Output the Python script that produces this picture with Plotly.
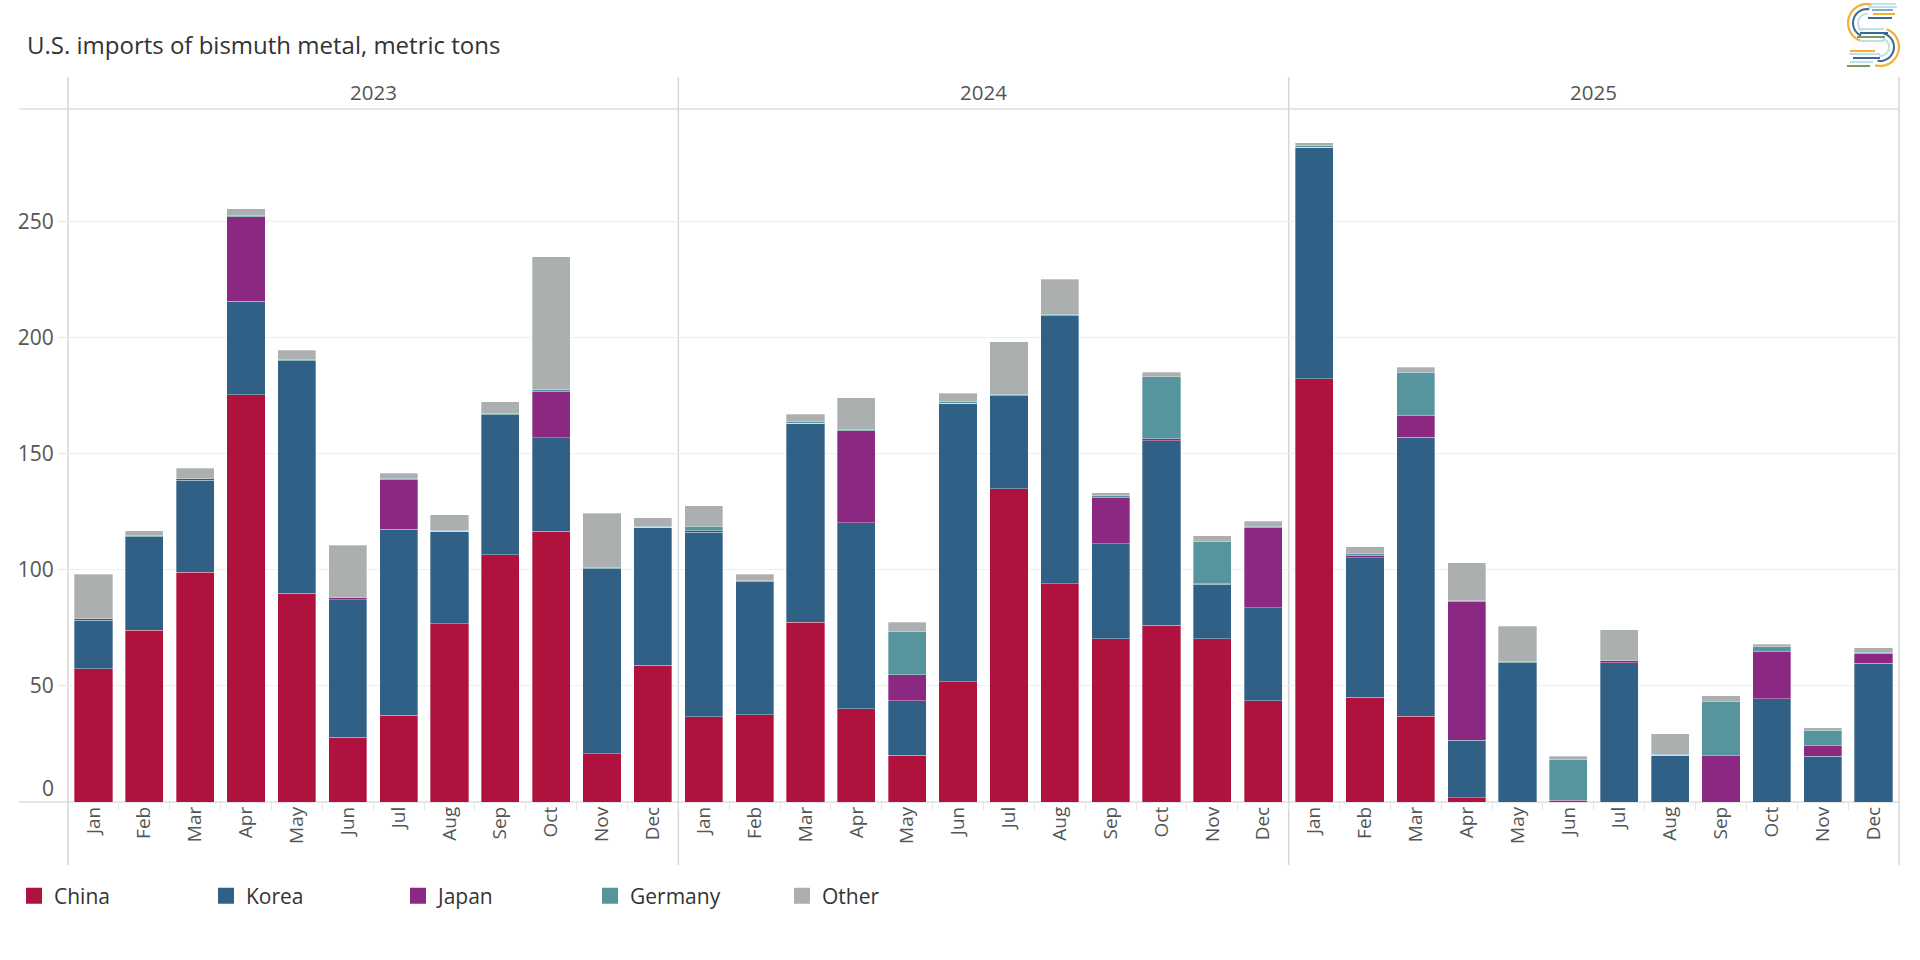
import math
import plotly.graph_objects as go
from plotly.subplots import make_subplots

# ---------------- data ----------------
years = ["2023", "2024", "2025"]
months = ["Jan", "Feb", "Mar", "Apr", "May", "Jun", "Jul", "Aug", "Sep", "Oct", "Nov", "Dec"]
countries = ["China", "Korea", "Japan", "Germany", "Other"]
colors = ["#AF123D", "#306086", "#8A2882", "#57959E", "#ABAFB0"]

china_2023 = [57.5, 74, 99, 175.5, 90, 27.8, 37.3, 76.8, 106.5, 116.7, 20.8, 58.8]
china_2024 = [36.8, 37.5, 77.5, 40.1, 20.2, 51.9, 134.9, 94, 70.4, 76.1, 70.4, 43.7]
china_2025 = [182.3, 45.2, 36.9, 1.9, 0, 0, 0, 0, 0, 0, 0, 0]

korea_2023 = [20.8, 40.3, 39.6, 40.2, 100, 59.3, 80.1, 39.9, 60.2, 40.2, 79.7, 59.5]
korea_2024 = [79.4, 57.4, 85.7, 80.1, 23.5, 119.8, 40.1, 115.5, 40.9, 79.5, 23.3, 39.9]
korea_2025 = [99.8, 60, 120.2, 24.6, 60, 0, 60, 20.2, 0, 44.4, 19.8, 59.8]

japan_2023 = [0.6, 0, 0.7, 36.4, 0, 0.9, 21.5, 0, 0, 19.9, 0, 0]
japan_2024 = [0.7, 0, 0, 39.7, 11.1, 0, 0, 0, 19.7, 0.9, 0.5, 34.5]
japan_2025 = [0, 1, 9.2, 59.7, 0, 0.8, 0.8, 0, 20, 20.6, 4.6, 4.2]

germany_2023 = [0, 0.5, 0, 0.5, 0.5, 0, 0.5, 0.4, 0.5, 0.7, 0.5, 0.5]
germany_2024 = [1.9, 0.5, 0.7, 0.5, 18.6, 0.7, 0.7, 0.7, 1, 26.6, 17.9, 0.7]
germany_2025 = [0.6, 0.9, 18.9, 0.5, 0.4, 17.7, 0, 0.4, 23.3, 1.9, 6.4, 0.4]

other_2023 = [19.2, 2, 4.4, 3, 4, 22.7, 2.1, 6.7, 5.2, 57.4, 23.4, 3.6]
other_2024 = [8.8, 2.7, 3.2, 13.7, 4.1, 3.7, 22.5, 15, 1.3, 2.1, 2.5, 2.2]
other_2025 = [1.3, 2.9, 2.1, 16.4, 15.2, 1.3, 13.4, 8.8, 2.5, 1, 1.1, 2.1]

series = {
    "China": [china_2023, china_2024, china_2025],
    "Korea": [korea_2023, korea_2024, korea_2025],
    "Japan": [japan_2023, japan_2024, japan_2025],
    "Germany": [germany_2023, germany_2024, germany_2025],
    "Other": [other_2023, other_2024, other_2025],
}

y_ticks = [0, 50, 100, 150, 200, 250]
y_max = 298.5

# ---------------- layout geometry (pixels) ----------------
W, H = 1920, 960
ML, MR, MT, MB = 68, 21, 109, 158
PW = W - ML - MR
PH = H - MT - MB


def px(x):
    return (x - ML) / PW


def py(y):
    return (H - MB - y) / PH


FONT = "Open Sans"
LBL = "#555555"

fig = make_subplots(rows=1, cols=3, shared_yaxes=True, horizontal_spacing=0)

for i, yr in enumerate(years):
    for c, col in zip(countries, colors):
        fig.add_trace(
            go.Bar(
                x=months,
                y=series[c][i],
                name=c,
                marker=dict(color=col, line=dict(color="rgba(255,255,255,0.55)", width=0.6)),
                showlegend=False,
                hovertemplate=c + " " + yr + " %{x}: %{y}<extra></extra>",
            ),
            row=1,
            col=i + 1,
        )

# legend entries
for c, col in zip(countries, colors):
    fig.add_trace(
        go.Scatter(
            x=[None], y=[None], mode="markers", name=c,
            marker=dict(symbol="square", size=18, color=col),
            showlegend=True,
        ),
        row=1, col=1,
    )

for i in range(3):
    xa = "xaxis" if i == 0 else f"xaxis{i+1}"
    fig.layout[xa].update(
        type="category",
        tickangle=-90,
        ticks="outside",
        tickson="boundaries",
        ticklen=7,
        tickwidth=1,
        tickcolor="#e6e6e6",
        tickfont=dict(family=FONT, size=19, color=LBL),
        showgrid=False,
        showline=False,
        zeroline=False,
        fixedrange=True,
    )
    ya = "yaxis" if i == 0 else f"yaxis{i+1}"
    fig.layout[ya].update(
        range=[0, y_max],
        tickvals=y_ticks,
        ticktext=[""] + [str(v) for v in y_ticks[1:]],
        showgrid=True,
        gridcolor="#eeeeee",
        gridwidth=1,
        zeroline=False,
        showline=False,
        fixedrange=True,
    )

fig.layout.yaxis.update(
    ticks="outside", ticklen=9, tickcolor="#e6e6e6",
    tickfont=dict(family=FONT, size=21, color=LBL),
)

shapes = []
# top header line and bottom axis line
for yy in (1.0, 0.0):
    shapes.append(dict(type="line", xref="paper", yref="paper", x0=px(19), x1=1.0, y0=yy, y1=yy,
                       line=dict(color="#dedede", width=1.5), layer="below"))
# panel separators
for k in range(4):
    xx = k / 3
    shapes.append(dict(type="line", xref="paper", yref="paper", x0=xx, x1=xx, y0=py(865), y1=py(77),
                       line=dict(color="#d4d4d4", width=1.5), layer="below"))

# ---- logo (decorative) ----
def seg(x0, x1, y, color, w=2):
    return dict(type="line", xref="paper", yref="paper", x0=px(x0), x1=px(x1), y0=py(y), y1=py(y),
                line=dict(color=color, width=w))


def arc(cx, cy, r, t0, t1, color, w=2):
    pts = []
    n = 16
    for j in range(n + 1):
        t = math.radians(t0 + (t1 - t0) * j / n)
        pts.append((px(cx + r * math.cos(t)), py(cy - r * math.sin(t))))
    path = "M" + " L".join(f"{a:.5f},{b:.5f}" for a, b in pts)
    return dict(type="path", xref="paper", yref="paper", path=path, line=dict(color=color, width=w))


OR, BL, LB, TE, GR = "#F2B134", "#3A6A93", "#BFE0E8", "#7FB0C2", "#7A9A5A"
shapes += [
    arc(1867, 23, 19, 75, 250, OR, 2.2),
    arc(1867, 23, 14, 80, 245, BL),
    arc(1867, 23, 9, 85, 240, LB),
    arc(1880, 47, 19, -105, 70, OR, 2.2),
    arc(1880, 47, 14, -100, 75, BL),
    arc(1880, 47, 9, -95, 80, LB),
    seg(1871, 1896, 4, LB), seg(1868, 1897, 7, LB), seg(1872, 1893, 10, TE),
    seg(1873, 1895, 14, OR), seg(1868, 1892, 18, BL),
    seg(1858, 1884, 29, LB), seg(1860, 1888, 33, BL), seg(1857, 1885, 37, GR), seg(1859, 1884, 41, LB),
    seg(1850, 1875, 51, OR), seg(1849, 1880, 54, LB), seg(1853, 1880, 58, BL),
    seg(1850, 1873, 62, LB), seg(1847, 1870, 66, GR),
]

annotations = []
for i, yr in enumerate(years):
    annotations.append(dict(text=yr, xref="paper", yref="paper", x=(i + 0.5) / 3, y=py(92),
                            showarrow=False, xanchor="center", yanchor="middle",
                            font=dict(family=FONT, size=20.5, color=LBL)))
annotations.append(dict(text=str(y_ticks[0]), xref="paper", yref="y", x=px(56), y=0, yshift=14,
                        showarrow=False, xanchor="right", yanchor="middle",
                        font=dict(family=FONT, size=21, color=LBL)))

fig.update_layout(
    width=W, height=H, autosize=False,
    margin=dict(l=ML, r=MR, t=MT, b=MB, pad=0),
    paper_bgcolor="white", plot_bgcolor="white",
    barmode="stack", bargap=0.25,
    font=dict(family=FONT, color="#333333"),
    title=dict(text="U.S. imports of bismuth metal, metric tons", x=27 / W, xref="container", xanchor="left",
               y=1 - 46 / H, yref="container", yanchor="middle",
               font=dict(family=FONT, size=24, color="#333333")),
    legend=dict(orientation="h", x=px(14), xanchor="left", y=py(896), yanchor="middle",
                traceorder="normal",
                entrywidth=147, entrywidthmode="pixels", itemclick=False,
                font=dict(family=FONT, size=21, color="#333333"), bgcolor="rgba(0,0,0,0)"),
    shapes=shapes,
    annotations=annotations,
)

fig.write_html("out.html")
